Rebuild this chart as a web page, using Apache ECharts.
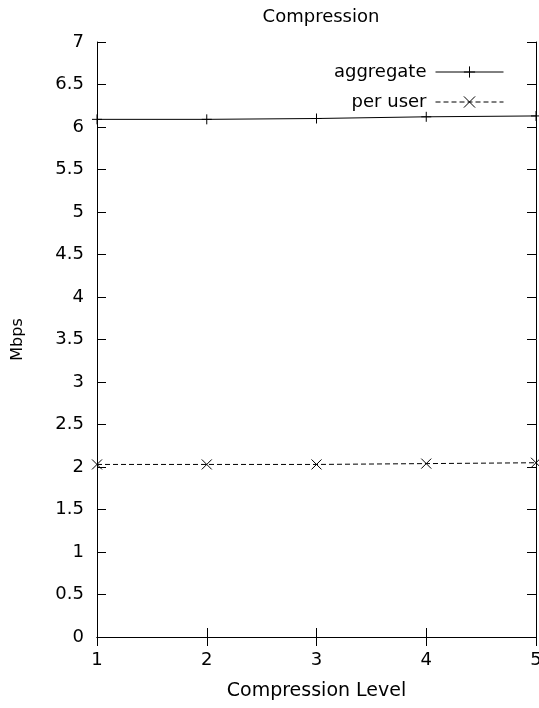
<!DOCTYPE html>
<html>
<head>
<meta charset="utf-8">
<script src="https://cdn.jsdelivr.net/npm/echarts@6/dist/echarts.min.js"></script>
<style>
  html, body { margin: 0; padding: 0; background: #fff; }
  #chart { width: 539px; height: 708px; }
</style>
</head>
<body>
<div id="chart"></div>
<script>
// compression levels and measured throughput (Mbps)
const levels = [1, 2, 3, 4, 5];
const aggregate = [6.09, 6.09, 6.10, 6.12, 6.13];
const perUser = [2.03, 2.03, 2.03, 2.04, 2.05];

const plus = 'path://M0,5L10,5M5,0L5,10';
const cross = 'path://M0,0L10,10M10,0L0,10';
const font = 'DejaVu Sans, sans-serif';

const chart = echarts.init(document.getElementById('chart'));

const baseX = {
    type: 'value', min: 1, max: 5, interval: 1,
    axisLine: { show: true, lineStyle: { color: '#000', width: 1 } },
    axisTick: { show: true, inside: true, length: 9, lineStyle: { color: '#000' } },
    splitLine: { show: false }
};
const baseY = {
    type: 'value', min: 0, max: 7, interval: 0.5,
    axisLine: { show: true, lineStyle: { color: '#000', width: 1 } },
    axisTick: { show: true, inside: true, length: 9, lineStyle: { color: '#000' } },
    splitLine: { show: false }
};

chart.setOption({
    animation: false,
    backgroundColor: '#fff',
    title: {
        text: 'Compression', left: 316, textAlign: 'center', top: 3,
        textStyle: { fontFamily: font, fontSize: 18, fontWeight: 'normal', color: '#000' }
    },
    grid: { left: 97, right: 3, top: 42, bottom: 71, outerBoundsMode: 'none' },
    legend: {
        right: 30, top: 58, orient: 'vertical', align: 'right',
        itemWidth: 68, itemHeight: 14, itemGap: 12,
        textStyle: { fontFamily: font, fontSize: 18, color: '#000', padding: [0, 4, 0, 0] },
        lineStyle: { width: 1 },
        itemStyle: { borderWidth: 1 },
        data: ['aggregate', 'per user']
    },
    xAxis: [
        Object.assign({}, baseX, {
            position: 'bottom',
            name: 'Compression Level', nameLocation: 'middle', nameGap: 45,
            nameTextStyle: { fontFamily: font, fontSize: 19, color: '#000' },
            axisLabel: { fontFamily: font, fontSize: 18, color: '#000', margin: 14 }
        }),
        Object.assign({}, baseX, { position: 'top', axisLabel: { show: false } })
    ],
    yAxis: [
        Object.assign({}, baseY, {
            position: 'left',
            name: 'Mbps', nameLocation: 'middle', nameGap: 71, nameRotate: 90,
            nameTextStyle: { fontFamily: font, fontSize: 16, color: '#000' },
            axisLabel: { fontFamily: font, fontSize: 18, color: '#000', margin: 13 }
        }),
        Object.assign({}, baseY, { position: 'right', axisLabel: { show: false } })
    ],
    series: [
        {
            name: 'aggregate', type: 'line',
            data: levels.map((x, i) => [x, aggregate[i]]),
            symbol: plus, symbolSize: 10,
            itemStyle: { color: 'transparent', borderColor: '#000', borderWidth: 1 },
            lineStyle: { color: '#000', width: 1 },
            clip: false
        },
        {
            name: 'per user', type: 'line',
            data: levels.map((x, i) => [x, perUser[i]]),
            symbol: cross, symbolSize: 10,
            itemStyle: { color: 'transparent', borderColor: '#000', borderWidth: 1 },
            lineStyle: { color: '#000', width: 1, type: [5, 3] },
            clip: false
        }
    ]
});
</script>
</body>
</html>
